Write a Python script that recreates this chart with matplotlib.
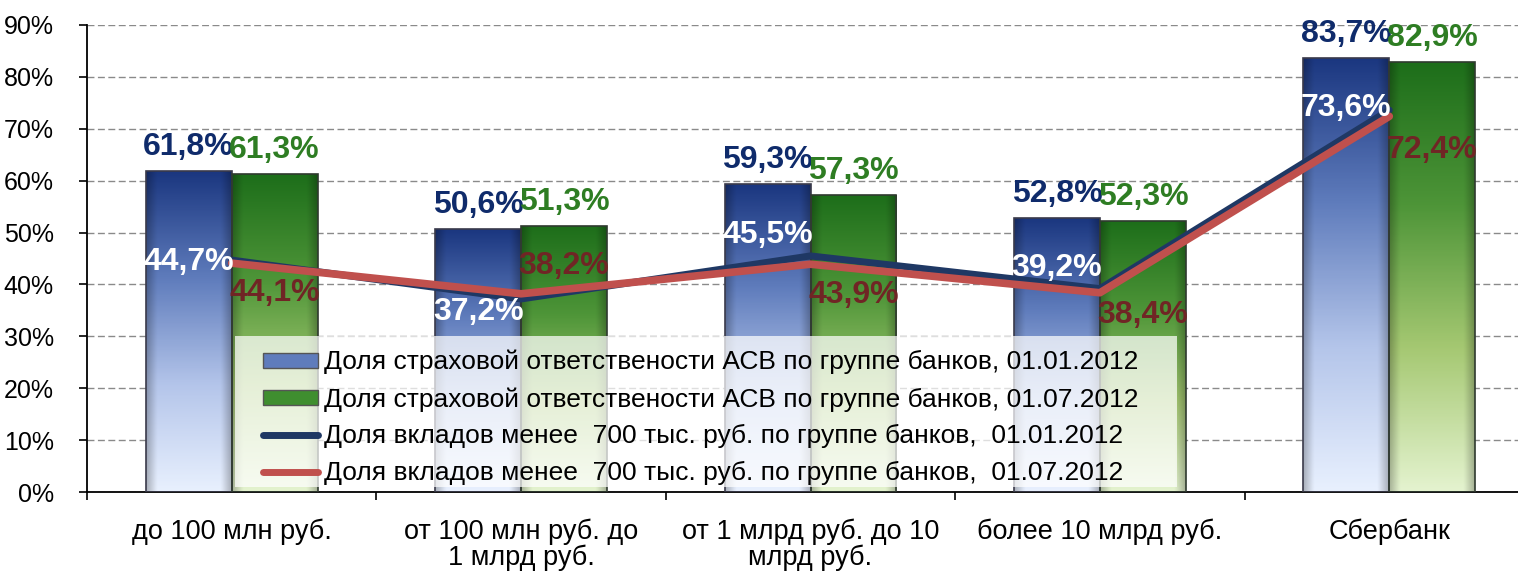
import numpy as np
import matplotlib
matplotlib.use('Agg')
import matplotlib.pyplot as plt
from matplotlib.colors import LinearSegmentedColormap
from matplotlib.patches import Patch, Rectangle
from matplotlib.lines import Line2D

plt.rcParams['font.family'] = ['Liberation Sans', 'DejaVu Sans']

categories = ['до 100 млн руб.', 'от 100 млн руб. до\n1 млрд руб.',
              'от 1 млрд руб. до 10\nмлрд руб.', 'более 10 млрд руб.', 'Сбербанк']
share_2012_01 = [61.8, 50.6, 59.3, 52.8, 83.7]   # blue bars
share_2012_07 = [61.3, 51.3, 57.3, 52.3, 82.9]   # green bars
dep_2012_01 = [44.7, 37.2, 45.5, 39.2, 73.6]     # blue line
dep_2012_07 = [44.1, 38.2, 43.9, 38.4, 72.4]     # red line
legend_labels = ['Доля страховой ответствености АСВ по группе банков, 01.01.2012',
                 'Доля страховой ответствености АСВ по группе банков, 01.07.2012',
                 'Доля вкладов менее  700 тыс. руб. по группе банков,  01.01.2012',
                 'Доля вкладов менее  700 тыс. руб. по группе банков,  01.07.2012']

# label offsets in pixels (style only)
blue_dy = [-2, -13, 21, 21, 2]
red_dy = [-30, 28, -31, -22, -34]

def fmt(v):
    return ('%.1f%%' % v).replace('.', ',')

def grad_bar(ax, patch, stops):
    cm = LinearSegmentedColormap.from_list('g', stops)
    vert = cm(np.linspace(0, 1, 200))[:, :3]          # row 0 = bottom (light)
    xs = np.linspace(0, 1, 40)
    shade = 1 - 0.25 * np.clip(1 - np.minimum(xs, 1 - xs) / 0.12, 0, 1)
    img = vert[:, None, :] * shade[None, :, None]
    x0, y0 = patch.get_x(), patch.get_y()
    w, h = patch.get_width(), patch.get_height()
    im = ax.imshow(img, extent=[x0, x0 + w, y0, y0 + h], origin='lower',
                   aspect='auto', zorder=2, interpolation='bilinear')
    im.set_clip_path(patch)

fig = plt.figure(figsize=(15.18, 5.74), dpi=100)
ax = fig.add_axes([87 / 1518, 82 / 574, 1447 / 1518, 467 / 574])

x = np.arange(len(categories))
bw = 0.297
b1 = ax.bar(x - bw / 2, share_2012_01, bw, facecolor='none', edgecolor='#3a3a4a', linewidth=1.2, zorder=3)
b2 = ax.bar(x + bw / 2, share_2012_07, bw, facecolor='none', edgecolor='#2f3a2f', linewidth=1.2, zorder=3)
for p in b1:
    grad_bar(ax, p, ['#e8f0fe', '#b4c5ea', '#5f7cbc', '#1b3780'])
for p in b2:
    grad_bar(ax, p, ['#e4f3cf', '#a5c872', '#4e9538', '#1d6e1a'])

ax.plot(x, dep_2012_01, color='#1f3864', lw=5, zorder=5, solid_capstyle='round')
ax.plot(x, dep_2012_07, color='#c0504d', lw=5.5, zorder=6, solid_capstyle='round')

lab_font = dict(fontsize=23, fontweight='bold', ha='center', va='center',
                textcoords='offset pixels', zorder=8)
for i in range(len(x)):
    ax.annotate(fmt(share_2012_01[i]), (x[i] - bw / 2, share_2012_01[i]), xytext=(0, 24),
                color='#0f2b6b', **lab_font)
    ax.annotate(fmt(share_2012_07[i]), (x[i] + bw / 2, share_2012_07[i]), xytext=(0, 24),
                color='#2e7d23', **lab_font)
    ax.annotate(fmt(dep_2012_01[i]), (x[i] - bw / 2, dep_2012_01[i]), xytext=(0, blue_dy[i]),
                color='white', **lab_font)
    ax.annotate(fmt(dep_2012_07[i]), (x[i] + bw / 2, dep_2012_07[i]), xytext=(0, red_dy[i]),
                color='#702525', **lab_font)

ax.set_xlim(-0.5, len(x) - 0.5)
ax.set_ylim(0, 90)
ax.set_yticks(np.arange(0, 91, 10))
ax.set_yticklabels(['%d%%' % v for v in range(0, 91, 10)])
ax.set_xticks(x)
ax.set_xticklabels(categories, linespacing=1.0)
ax.set_xticks(np.arange(-0.5, len(x), 1), minor=True)
ax.tick_params(axis='x', which='major', length=0, pad=19, labelsize=19.5)
ax.tick_params(axis='x', which='minor', length=6, width=1.2, direction='out')
ax.tick_params(axis='y', length=6, width=1.2, direction='out', pad=18, labelsize=18)
ax.yaxis.grid(True, linestyle=(0, (5, 2.5)), color='#8a8a8a', linewidth=1)
ax.set_axisbelow(True)
for s in ['top', 'right']:
    ax.spines[s].set_visible(False)
ax.spines['left'].set_linewidth(1.3)
ax.spines['bottom'].set_linewidth(1.3)

# translucent legend panel
fig.patches.append(Rectangle((235 / 1518, 87 / 574), 942 / 1518, 151 / 574,
                             transform=fig.transFigure, facecolor='white', alpha=0.72,
                             edgecolor='none', zorder=6))

handles = [Patch(facecolor='#5f7cbc', edgecolor='#555'),
           Patch(facecolor='#3f8e2f', edgecolor='#555'),
           Line2D([], [], color='#1f3864', lw=5, solid_capstyle='round'),
           Line2D([], [], color='#c0504d', lw=5, solid_capstyle='round')]
leg = fig.legend(handles, legend_labels, loc='lower left', bbox_to_anchor=(263 / 1518, 89 / 574),
                 fontsize=19, frameon=False, handlelength=2.1, handleheight=0.5,
                 handletextpad=0.2, labelspacing=0.48, borderpad=0, borderaxespad=0)
leg.set_zorder(7)

fig.savefig('out.png', dpi=100)
